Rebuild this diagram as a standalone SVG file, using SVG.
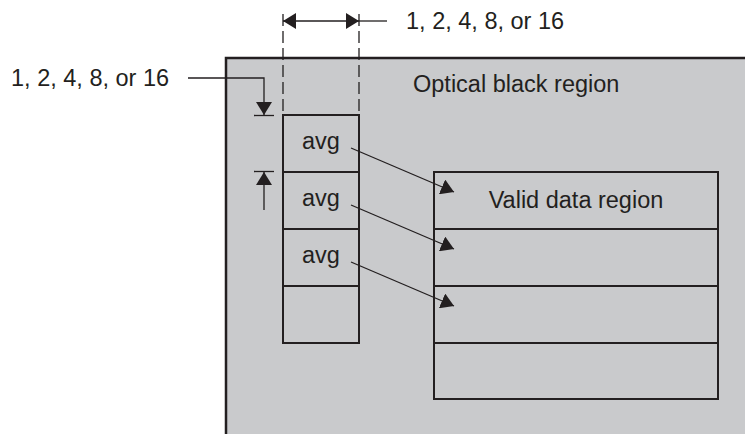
<svg xmlns="http://www.w3.org/2000/svg" width="745" height="434" viewBox="0 0 745 434">
  <style>
    .txt { font-family: "Liberation Sans", Arial, sans-serif; font-size: 23.5px; fill: #231f20; }
    .box { fill: none; stroke: #231f20; stroke-width: 2; }
    .ln { fill: none; stroke: #231f20; stroke-width: 1.3; }
    .dash { fill: none; stroke: #231f20; stroke-width: 1.3; stroke-dasharray: 12 5; }
  </style>
  <defs>
    <marker id="tri" viewBox="0 0 13 16" refX="13" refY="8" markerWidth="13" markerHeight="16" orient="auto-start-reverse" markerUnits="userSpaceOnUse">
      <path d="M0,0 L13,8 L0,16 z" fill="#231f20"/>
    </marker>
  </defs>
  <rect width="745" height="434" fill="#ffffff"/>

  <g id="optical-black-region">
    <rect x="226" y="58" width="540" height="400" fill="#c9cacc" stroke="#231f20" stroke-width="2.5"/>
    <text class="txt" x="413" y="92">Optical black region</text>
  </g>

  <g id="avg-column">
    <rect x="283" y="115" width="76" height="228" fill="#c9cacc" class="box"/>
    <line class="box" x1="283" y1="172" x2="359" y2="172"/>
    <line class="box" x1="283" y1="229" x2="359" y2="229"/>
    <line class="box" x1="283" y1="286" x2="359" y2="286"/>
    <text class="txt" x="321" y="149" text-anchor="middle">avg</text>
    <text class="txt" x="321" y="206" text-anchor="middle">avg</text>
    <text class="txt" x="321" y="263" text-anchor="middle">avg</text>
  </g>

  <g id="valid-data-region">
    <rect x="434" y="172" width="284" height="227" fill="#ffffff" class="box"/>
    <line class="box" x1="434" y1="229" x2="718" y2="229"/>
    <line class="box" x1="434" y1="286" x2="718" y2="286"/>
    <line class="box" x1="434" y1="343" x2="718" y2="343"/>
    <text class="txt" x="576" y="208" text-anchor="middle">Valid data region</text>
  </g>

  <g id="dimension-horizontal">
    <line class="dash" x1="283" y1="14" x2="283" y2="115"/>
    <line class="dash" x1="359" y1="14" x2="359" y2="115"/>
    <line class="ln" x1="283" y1="21" x2="359" y2="21" marker-start="url(#tri)" marker-end="url(#tri)"/>
    <line class="ln" x1="359" y1="21" x2="387" y2="21"/>
    <text class="txt" x="406" y="29">1, 2, 4, 8, or 16</text>
  </g>

  <g id="dimension-vertical">
    <text class="txt" x="11" y="86">1, 2, 4, 8, or 16</text>
    <polyline class="ln" points="188,78 264,78 264,115" marker-end="url(#tri)"/>
    <line class="ln" x1="254" y1="115.5" x2="274" y2="115.5"/>
    <line class="ln" x1="264" y1="210" x2="264" y2="172" marker-end="url(#tri)"/>
    <line class="ln" x1="254" y1="171.5" x2="274" y2="171.5"/>
  </g>

  <g id="connectors">
    <line class="ln" x1="351" y1="148" x2="454" y2="192" marker-end="url(#tri)"/>
    <line class="ln" x1="351" y1="205" x2="454" y2="249" marker-end="url(#tri)"/>
    <line class="ln" x1="351" y1="262" x2="454" y2="306" marker-end="url(#tri)"/>
  </g>
</svg>
